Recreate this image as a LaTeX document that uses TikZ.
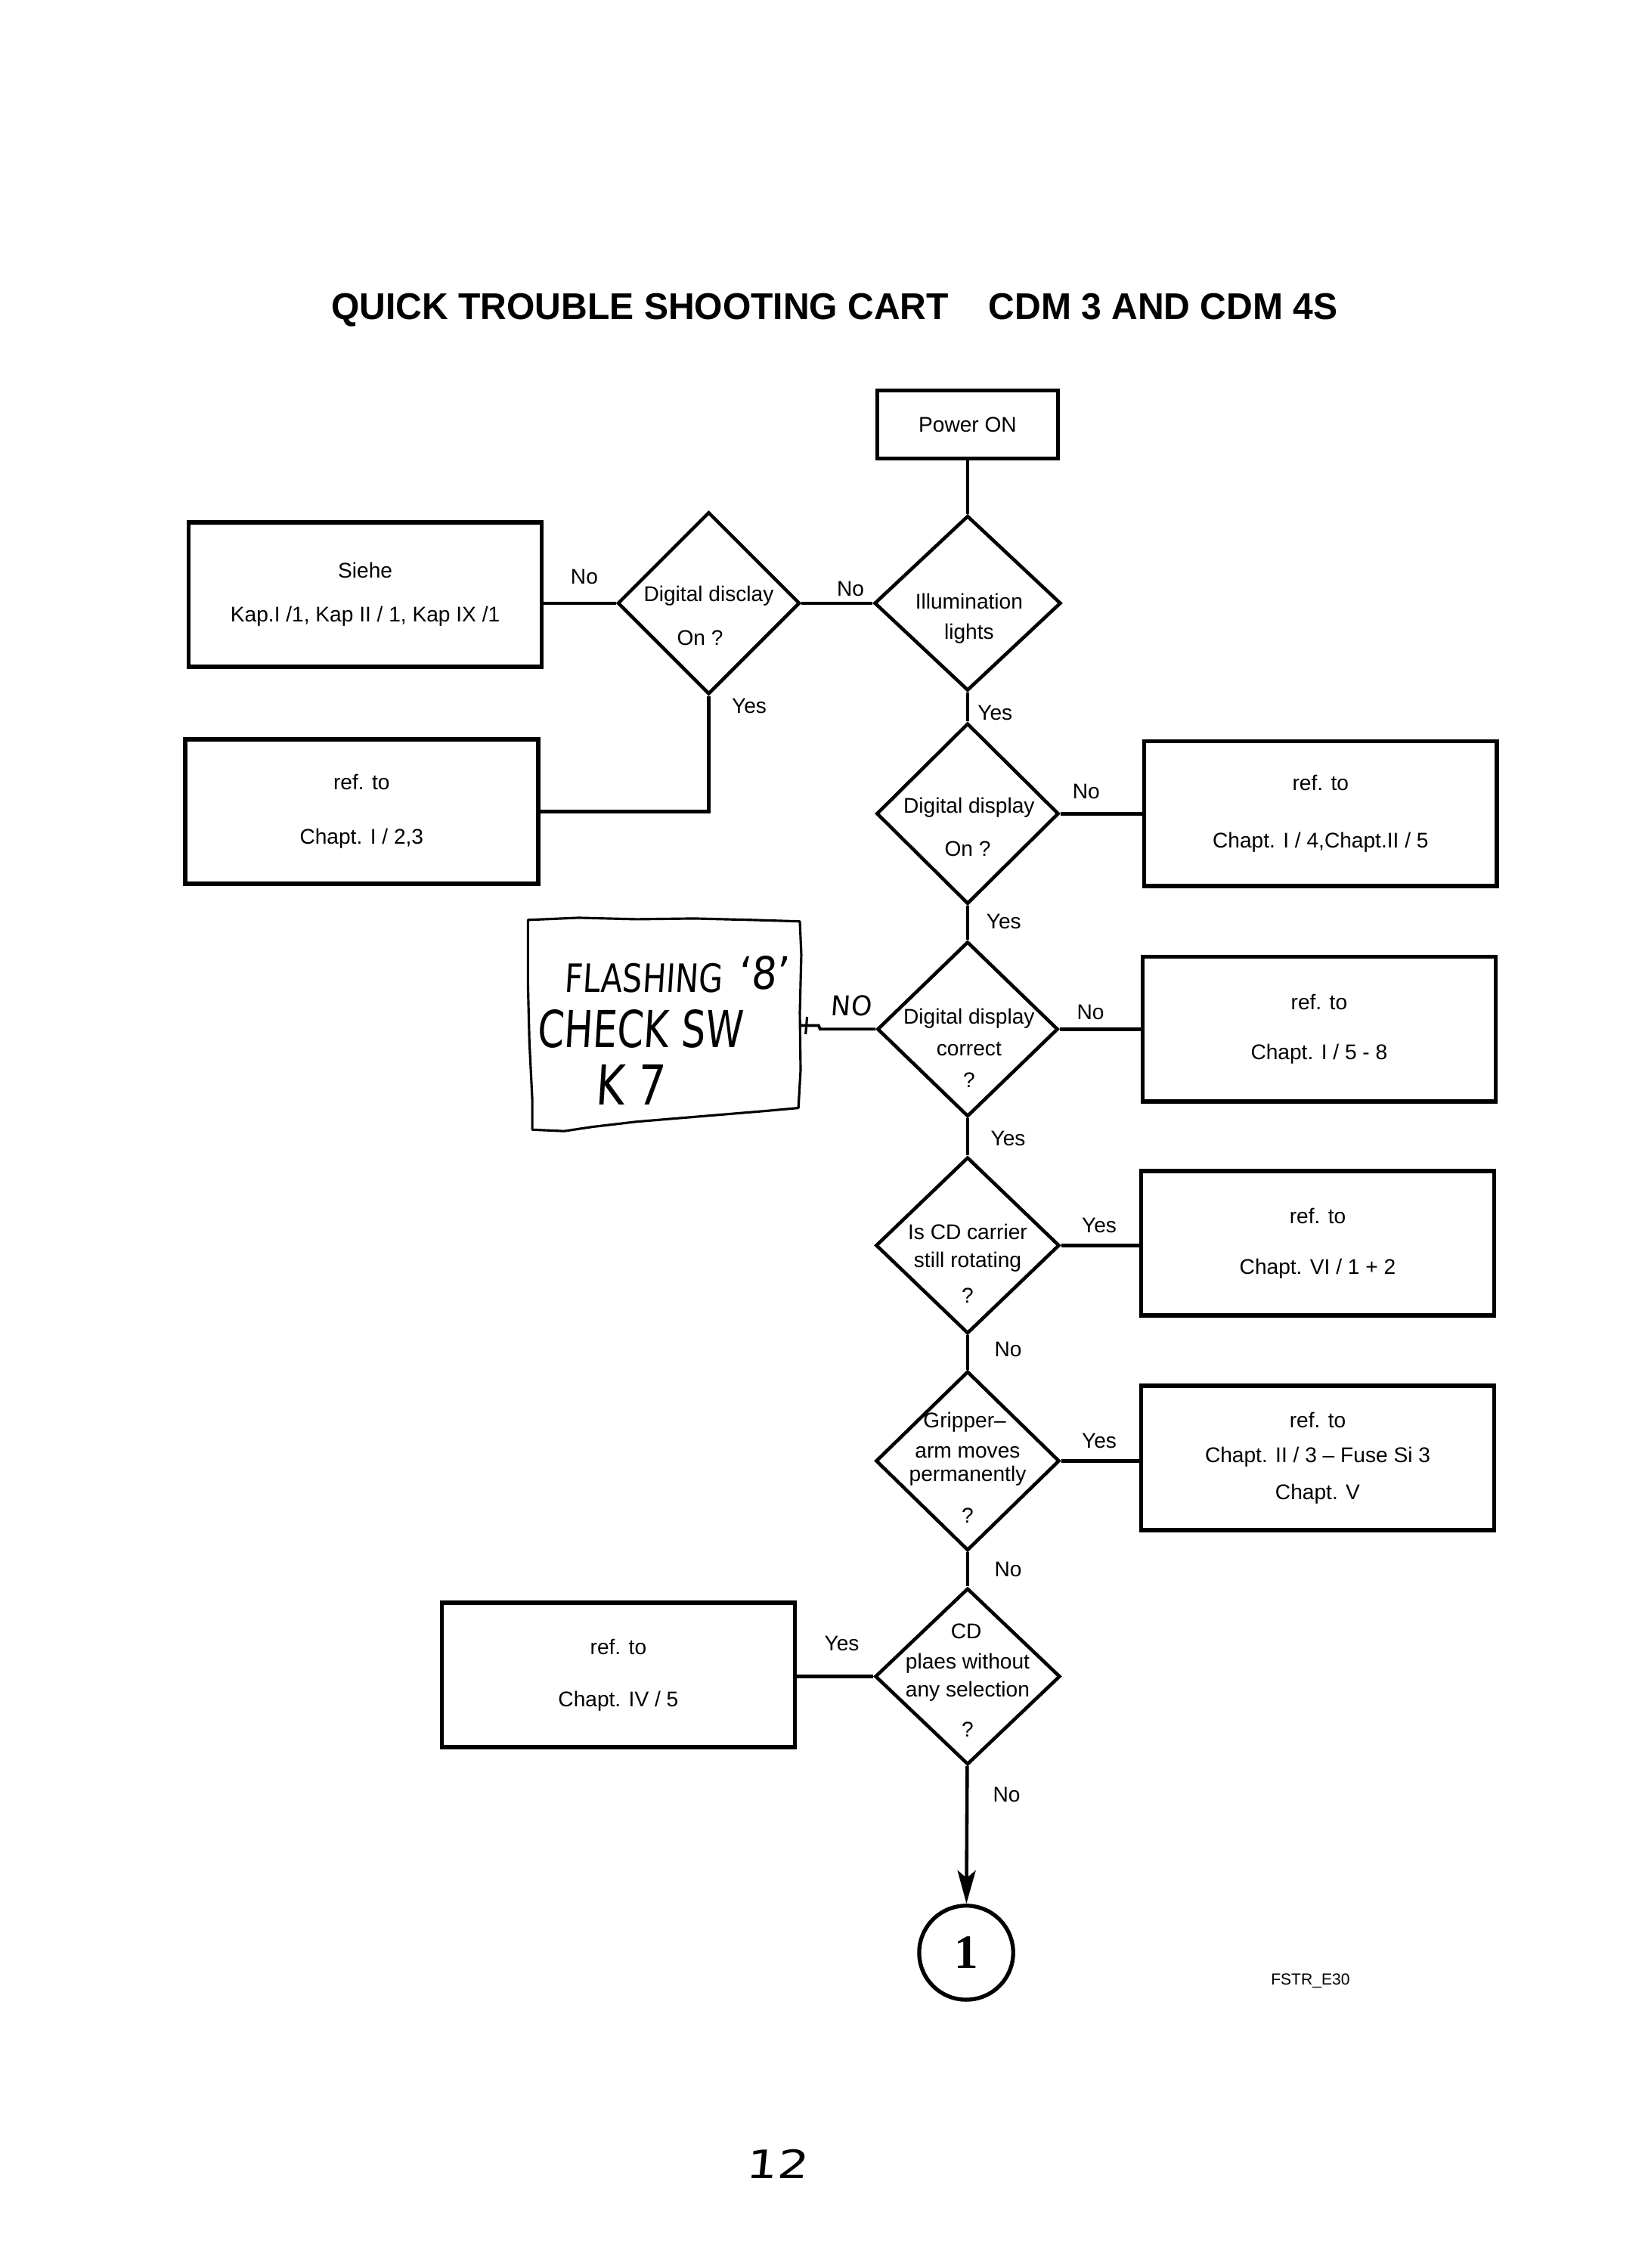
\documentclass[tikz,border=0pt]{standalone}
\usepackage{fontspec}
\usepackage{graphicx}
\setmainfont{Liberation Sans}
\newfontfamily\serifb{Liberation Serif}
\newfontfamily\handfont{DejaVu Sans}[FakeSlant=0.08]
\usetikzlibrary{shapes.geometric,arrows.meta}
\def\pxu{0.01913cm}
\tikzset{
  box/.style={draw, line width=1.6pt, minimum width=244*\pxu, minimum height=100*\pxu,
    inner sep=0pt, align=center, font=\fontsize{8}{9.6}\selectfont},
  dia/.style={draw, diamond, line width=1.3pt, inner sep=0pt,
    minimum width=127*\pxu, minimum height=122*\pxu},
  txt/.style={anchor=base, inner sep=0pt, font=\fontsize{8}{9.6}\selectfont},
  conn/.style={line width=1.3pt},
  hand/.style={anchor=base west, inner sep=0pt},
}
\begin{document}
\begin{tikzpicture}[x=0.01913cm,y=-0.01913cm]
\useasboundingbox (0,0) rectangle (1137,1568);

% title
\node[anchor=base, inner sep=0pt] (title) at (577,221)
  {\resizebox{13.31cm}{0.344cm}{\bfseries QUICK TROUBLE SHOOTING CART\hspace{1.1em}CDM 3 AND CDM 4S}};

% start box
\node[box, minimum width=125*\pxu, minimum height=47*\pxu] (power) at (669,293.5) {Power ON};

% decisions
\node[dia, minimum width=129*\pxu, minimum height=121*\pxu] (illum) at (669,417) {};
\node[dia, minimum width=126*\pxu, minimum height=126*\pxu] (dd1) at (490,417) {};
\node[dia, minimum width=126*\pxu, minimum height=125*\pxu] (dd2) at (669,562.5) {};
\node[dia, minimum width=125*\pxu, minimum height=121*\pxu] (dd3) at (669,711.5) {};
\node[dia] (cd) at (669,861) {};
\node[dia, minimum height=124*\pxu] (grip) at (669,1010) {};
\node[dia, minimum width=128*\pxu] (plae) at (669,1159) {};

% result boxes
\node[box] (siehe) at (252.5,411) {Siehe\\[6.7pt]Kap.I /1, Kap II / 1, Kap IX /1};
\node[box] (refA) at (250,561) {ref. to\\[11pt]Chapt. I / 2,3};
\node[box] (refB) at (913,562.5) {ref. to\\[12pt]Chapt. I / 4,Chapt.II / 5};
\node[box] (refC) at (912,711.5) {ref. to\\[9pt]Chapt. I / 5 - 8};
\node[box] (refD) at (911,859.5) {ref. to\\[9.5pt]Chapt. VI / 1 + 2};
\node[box] (refE) at (911,1008) {ref. to\\[3.5pt]Chapt. II / 3 – Fuse Si 3\\[4.5pt]Chapt. V};
\node[box] (refF) at (427.5,1158) {ref. to\\[10pt]Chapt. IV / 5};

% connector circle
\node[circle, draw, line width=1.5pt, minimum size=65*\pxu, inner sep=0pt] (c1) at (668,1350)
  {\serifb\bfseries\fontsize{18}{18}\selectfont 1};

% diamond texts
\node[txt] (illumA) at (670,421) {Illumination};
\node[txt] (illumB) at (670,442) {lights};
\node[txt] (dd1A) at (490,416) {Digital disclay};
\node[txt] (dd1B) at (484,446) {On ?};
\node[txt] (dd2A) at (670,562) {Digital display};
\node[txt] (dd2B) at (669,592) {On ?};
\node[txt] (dd3A) at (670,708) {Digital display};
\node[txt] (dd3B) at (670,730) {correct};
\node[txt] (dd3C) at (670,752) {?};
\node[txt] (cdA) at (669,857) {Is CD carrier};
\node[txt] (cdB) at (669,876) {still rotating};
\node[txt] (cdC) at (669,901) {?};
\node[txt] (gripA) at (667,987) {Gripper–};
\node[txt] (gripB) at (669,1008) {arm moves};
\node[txt] (gripC) at (669,1024) {permanently};
\node[txt] (gripD) at (669,1053) {?};
\node[txt] (plaeA) at (668,1133) {CD};
\node[txt] (plaeB) at (669,1154) {plaes without};
\node[txt] (plaeC) at (669,1173) {any selection};
\node[txt] (plaeD) at (669,1201) {?};

% connectors
\draw[conn] (power) -- (illum);
\draw[conn] (illum) -- (dd1);
\draw[conn] (dd1.west) -- (dd1.west -| siehe.east);
\draw[conn] (dd1.south) |- (refA.east);
\draw[conn] (illum) -- (dd2);
\draw[conn] (dd2) -- (refB);
\draw[conn] (dd2) -- (dd3);
\draw[conn] (dd3) -- (refC);
\draw[conn] (dd3) -- (cd);
\draw[conn] (cd.east) -- (cd.east -| refD.west);
\draw[conn] (cd) -- (grip);
\draw[conn] (grip.east) -- (grip.east -| refE.west);
\draw[conn] (grip) -- (plae);
\draw[conn] (plae.west) -- (plae.west -| refF.east);
\draw[conn, -{Stealth[length=0.44cm, width=0.24cm, inset=0.1cm]}] (plae) -- (c1);

% connector labels
\node[txt] (n1) at (404,404) {No};
\node[txt] (n2) at (588,412) {No};
\node[txt] (y1) at (518,493) {Yes};
\node[txt] (y2) at (688,498) {Yes};
\node[txt] (n3) at (751,552) {No};
\node[txt] (y3) at (694,642) {Yes};
\node[txt] (n4) at (754,705) {No};
\node[txt] (y4) at (697,792) {Yes};
\node[txt] (y5) at (760,852) {Yes};
\node[txt] (n5) at (697,938) {No};
\node[txt] (y6) at (760,1001) {Yes};
\node[txt] (n6) at (697,1090) {No};
\node[txt] (y7) at (582,1141) {Yes};
\node[txt] (n7) at (696,1246) {No};

% handwritten box
\draw[line width=0.9pt, line join=round]
  (365,636) -- (400,634.5) -- (440,635.5) -- (480,635) -- (520,636) -- (553,637)
  -- (554,660) -- (553,700) -- (553.5,740) -- (552,766)
  -- (530,768) -- (500,770.5) -- (470,773) -- (440,775.5) -- (410,779) -- (390,782) -- (368,781)
  -- (368,760) -- (366,720) -- (365,680) -- cycle;
\coordinate (hbR) at (553,709);
\draw[line width=1.1pt] (dd3.west) -- (567,711.5) -- (566,709) -- (hbR);
\draw[line width=0.9pt] (558,703) -- (557,715);
\node[hand] (hw1) at (390,686) {\resizebox{2.085cm}{0.383cm}{\handfont FLASHING}};
\node[hand] (hw2) at (510,684) {\resizebox{0.670cm}{0.44cm}{\handfont ‘8’}};
\node[hand] (hw3) at (371,724) {\resizebox{2.716cm}{0.50cm}{\handfont CHECK SW}};
\node[hand] (hw4) at (411,764) {\resizebox{0.918cm}{0.53cm}{\handfont K\hspace{0.3em}7}};
\node[hand] (hw5) at (574,702) {\resizebox{0.536cm}{0.268cm}{\handfont NO}};

% footer
\node[txt, font=\fontsize{6}{7}\selectfont] (code) at (906,1372) {FSTR\_E30};
\node[hand] (page) at (515,1506) {\resizebox{0.823cm}{0.383cm}{\handfont 12}};
\end{tikzpicture}
\end{document}
